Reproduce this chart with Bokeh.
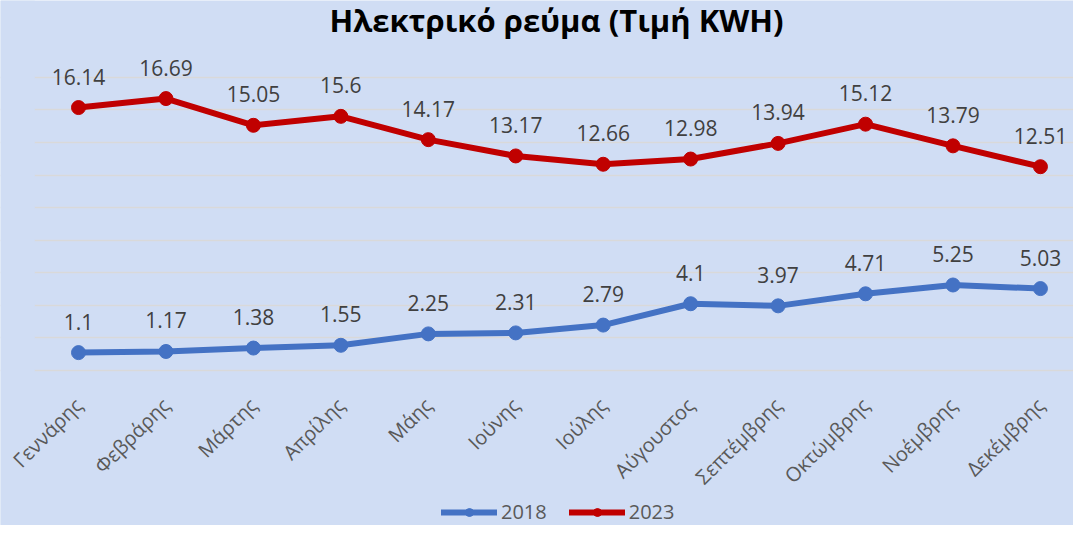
from math import pi
from bokeh.plotting import figure
from bokeh.models import (Range1d, FixedTicker, Legend, LegendItem, ColumnDataSource,
                          Label, BoxAnnotation)
from bokeh.core.properties import value
from bokeh.embed import file_html
from bokeh.resources import INLINE

months = ["Γεννάρης", "Φεβράρης", "Μάρτης", "Απρίλης", "Μάης", "Ιούνης",
          "Ιούλης", "Αύγουστος", "Σεπτέμβρης", "Οκτώμβρης", "Νοέμβρης", "Δεκέμβρης"]
v2018 = [1.1, 1.17, 1.38, 1.55, 2.25, 2.31, 2.79, 4.1, 3.97, 4.71, 5.25, 5.03]
v2023 = [16.14, 16.69, 15.05, 15.6, 14.17, 13.17, 12.66, 12.98, 13.94, 15.12, 13.79, 12.51]
y_ticks = [0, 2, 4, 6, 8, 10, 12, 14, 16, 18]
title_text = "Ηλεκτρικό ρεύμα (Τιμή KWH)"

BG = "#D0DDF4"
BLUE = "#4472C4"
RED = "#C00000"
FONT = "Open Sans"
W, H = 1073, 525

idx = list(range(len(months)))
src18 = ColumnDataSource(dict(x=idx, y=v2018, t=[f"{v:g}" for v in v2018]))
src23 = ColumnDataSource(dict(x=idx, y=v2023, t=[f"{v:g}" for v in v2023]))

p = figure(width=W, height=H, output_backend="svg", toolbar_location=None,
           x_range=Range1d(-0.892, 11.378), y_range=Range1d(-9.51, 22.71),
           min_border_left=0, min_border_right=0, min_border_top=0, min_border_bottom=0)
p.background_fill_color = BG
p.border_fill_color = BG
p.outline_line_color = None

p.yaxis.visible = False
p.yaxis.ticker = FixedTicker(ticks=y_ticks)
p.ygrid.ticker = FixedTicker(ticks=y_ticks)
p.ygrid.grid_line_color = "#D9D9D9"
p.ygrid.grid_line_width = 1.5
p.xgrid.visible = False

# hide the gridlines left of the first category slot (plot area starts there)
p.add_layout(BoxAnnotation(right=-0.5, fill_color=BG, fill_alpha=1.0, line_alpha=0,
                           level="underlay"))

xa = p.xaxis[0]
xa.fixed_location = 0
xa.ticker = FixedTicker(ticks=idx)
xa.major_label_overrides = {i: m for i, m in enumerate(months)}
xa.major_label_orientation = pi / 4
xa.axis_line_color = None
xa.major_tick_line_color = None
xa.minor_tick_line_color = None
xa.major_tick_out = 0
xa.minor_tick_out = 0
xa.major_label_text_font = FONT
xa.major_label_text_font_size = "20px"
xa.major_label_text_color = "#595959"
xa.major_label_standoff = 31

l18 = p.line("x", "y", source=src18, line_color=BLUE, line_width=6, line_join="round", line_cap="round")
s18 = p.scatter("x", "y", source=src18, size=14, fill_color=BLUE, line_color=BLUE)
l23 = p.line("x", "y", source=src23, line_color=RED, line_width=6, line_join="round", line_cap="round")
s23 = p.scatter("x", "y", source=src23, size=14, fill_color=RED, line_color=RED)

for src in (src18, src23):
    p.text("x", "y", text="t", source=src, text_align="center", text_baseline="middle",
           y_offset=-31, text_font=value(FONT), text_font_size="21px", text_color="#404040")

p.add_layout(Label(x=556, y=H - 19, x_units="screen", y_units="screen", text=title_text,
                   text_align="center", text_baseline="alphabetic", text_font=FONT,
                   text_font_size="31px", text_font_style="bold", text_color="#000000"))

legend = Legend(items=[LegendItem(label="2018", renderers=[l18, s18]),
                       LegendItem(label="2023", renderers=[l23, s23])],
                orientation="horizontal", location=(441, 0))
legend.glyph_width = 56
legend.glyph_height = 20
legend.label_text_font = FONT
legend.label_text_font_size = "20px"
legend.label_text_color = "#595959"
legend.background_fill_alpha = 0
legend.border_line_color = None
legend.spacing = 22
legend.label_standoff = 4
legend.padding = 0
legend.margin = 0
p.add_layout(legend, "center")

open("out.html", "w").write(file_html(p, INLINE))
